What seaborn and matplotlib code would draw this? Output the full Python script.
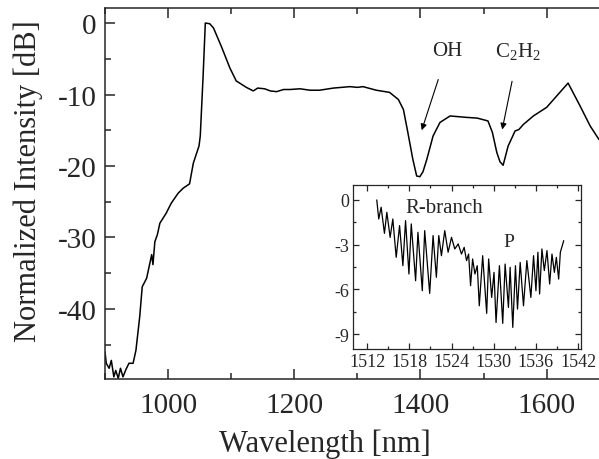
import matplotlib
matplotlib.use('Agg')
import matplotlib.pyplot as plt
import seaborn as sns
import pandas as pd
from matplotlib.ticker import MultipleLocator

# main spectrum
wl = [900, 902, 906.5, 910, 914, 917, 921, 924.5, 928.5, 933, 938, 944.5, 949,
      955, 959, 966, 974, 976, 979, 983, 987, 997, 1005, 1016, 1024, 1034, 1040,
      1049, 1051, 1055.5, 1059, 1066, 1072, 1085, 1098, 1108, 1124, 1135, 1142,
      1153, 1162, 1172, 1183, 1193, 1209, 1225, 1240, 1262, 1288, 1300, 1309,
      1330, 1351, 1365, 1373, 1380, 1388, 1394, 1399, 1404, 1410, 1420, 1431,
      1447, 1473, 1490, 1507, 1514, 1521, 1526, 1531, 1539, 1550, 1556, 1563,
      1579, 1600, 1621, 1634, 1653, 1669, 1683]
intensity = [-46.0, -47.6, -48.3, -47.2, -49.5, -48.6, -49.7, -48.3, -49.5, -48.5,
             -47.6, -47.6, -45.8, -41.1, -36.9, -35.7, -32.4, -33.8, -30.6, -29.6,
             -28.0, -26.6, -25.2, -23.8, -23.1, -22.5, -19.6, -17.2, -15.8, -7.4,
             0.0, -0.1, -0.7, -3.4, -6.3, -8.1, -9.0, -9.5, -9.1, -9.2, -9.5, -9.6,
             -9.3, -9.3, -9.2, -9.4, -9.4, -9.1, -8.9, -9.0, -8.9, -9.4, -9.7,
             -10.7, -12.1, -15.3, -19.1, -21.4, -21.5, -20.8, -19.1, -15.8, -13.9,
             -13.0, -13.2, -13.3, -13.7, -15.3, -18.1, -19.4, -19.9, -17.2, -15.1,
             -14.9, -14.2, -13.0, -11.8, -9.7, -8.4, -11.6, -14.4, -16.3]

# inset: zoom on 1510-1542 nm
wl_in = [1513.38, 1513.66, 1514.0, 1514.47, 1514.81, 1515.28, 1515.66, 1516.14,
         1516.62, 1517.09, 1517.47, 1517.95, 1518.28, 1518.9, 1519.23, 1519.85,
         1520.19, 1520.9, 1521.38, 1521.85, 1522.19, 1522.57, 1523.04, 1523.52,
         1524.0, 1524.47, 1524.95, 1525.42, 1525.8, 1526.14, 1526.43, 1526.71,
         1527.0, 1527.33, 1527.66, 1527.95, 1528.43, 1529.0, 1529.28, 1529.71,
         1530.04, 1530.33, 1530.81, 1531.28, 1531.62, 1532.09, 1532.33, 1532.71,
         1533.09, 1533.38, 1533.76, 1534.23, 1534.71, 1535.28, 1535.66, 1536.0,
         1536.28, 1536.52, 1536.85, 1537.19, 1537.57, 1537.95, 1538.28, 1538.62,
         1538.9, 1539.23, 1539.47, 1539.95]
int_in = [0.0, -1.28, -0.49, -2.24, -0.83, -2.51, -1.28, -3.85, -1.72, -4.41,
          -1.39, -4.97, -1.61, -5.42, -2.17, -6.09, -2.06, -6.27, -2.39, -5.19,
          -2.39, -3.74, -2.06, -3.51, -2.51, -3.29, -2.95, -3.63, -3.18, -4.07,
          -3.63, -5.75, -3.96, -4.97, -4.41, -7.10, -3.74, -7.61, -3.96, -6.54,
          -4.86, -8.22, -4.41, -8.28, -4.30, -7.21, -4.52, -8.55, -4.41, -7.32,
          -4.19, -7.10, -4.07, -6.54, -3.74, -6.09, -3.51, -6.31, -3.29, -4.74,
          -3.40, -5.64, -3.63, -4.86, -3.85, -5.31, -3.51, -2.73]

sns.set_style('ticks')
plt.rcParams['font.family'] = ['Liberation Serif', 'DejaVu Serif']
plt.rcParams['mathtext.fontset'] = 'custom'
plt.rcParams['mathtext.rm'] = 'Liberation Serif'
plt.rcParams['axes.unicode_minus'] = False

fig = plt.figure(figsize=(5.99, 4.60), dpi=100)
ax = fig.add_axes([0.1753, 0.1739, 0.8247, 0.8065])
sns.lineplot(x=wl, y=intensity, ax=ax, color='black', lw=1.1)
ax.set_xlim(900, 1683)
ax.set_ylim(-49.8, 2.1)
ax.xaxis.set_major_locator(MultipleLocator(200))
ax.xaxis.set_minor_locator(MultipleLocator(100))
ax.yaxis.set_major_locator(MultipleLocator(10))
ax.yaxis.set_minor_locator(MultipleLocator(5))
ax.tick_params(which='both', direction='in', top=True, right=False, width=1.1)
ax.tick_params(which='major', length=7, labelsize=21)
ax.tick_params(axis='x', which='major', pad=9)
ax.tick_params(axis='y', which='major', pad=6)
ax.tick_params(which='minor', length=4)
ax.spines['right'].set_visible(False)
for s in ['left', 'top', 'bottom']:
    ax.spines[s].set_linewidth(1.1)
ax.set_xlabel('Wavelength [nm]', fontsize=22)
ax.xaxis.set_label_coords(0.445, -0.133)
ax.set_ylabel('Normalized Intensity [dB]', fontsize=22)
ax.yaxis.set_label_coords(-0.126, 0.535)

arrow = dict(arrowstyle='-|>', color='black', lw=0.8, mutation_scale=9,
             shrinkA=12, shrinkB=0)
ax.annotate('OH', xy=(1402, -15.0), xytext=(1443, -3.9), fontsize=15,
            ha='center', va='center', arrowprops=arrow)
ax.annotate(r'C$_\mathregular{2}$H$_\mathregular{2}$', xy=(1529.6, -14.9), xytext=(1555, -3.9),
            fontsize=15, ha='center', va='center', arrowprops=arrow)

# inset
axin = fig.add_axes([0.5893, 0.2391, 0.3806, 0.3565])
sns.lineplot(x=wl_in, y=int_in, ax=axin, color='black', lw=0.9)
axin.set_xlim(1510, 1542.4)
axin.set_ylim(-10, 1)
axin.xaxis.set_minor_locator(MultipleLocator(3))
axin.yaxis.set_major_locator(MultipleLocator(3))
axin.yaxis.set_minor_locator(MultipleLocator(1.5))
axin.set_xticks([1512, 1518, 1524, 1530, 1536, 1542])
axin.tick_params(which='both', direction='in', top=True, right=True, width=0.9)
axin.tick_params(which='major', length=4, labelsize=13, pad=3)
axin.tick_params(which='minor', length=2)
for s in axin.spines.values():
    s.set_linewidth(0.9)
axin.text(1517.5, -0.5, 'R-branch', fontsize=15, ha='left', va='center')
axin.text(1532.1, -2.78, 'P', fontsize=14, ha='center', va='center')

fig.savefig('out.png', dpi=100)
